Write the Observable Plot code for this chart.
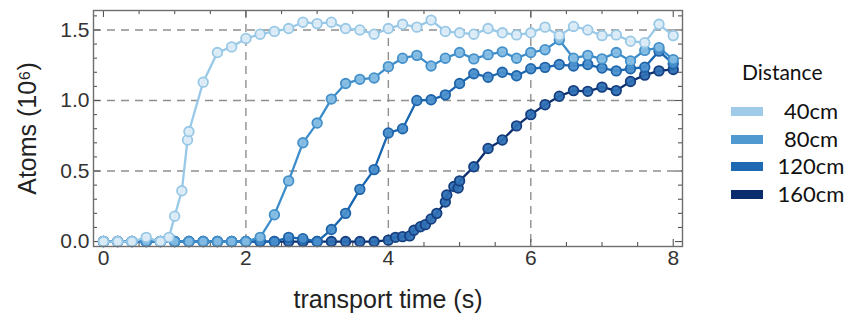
<!DOCTYPE html>
<html>
<head>
<meta charset="utf-8">
<script src="https://cdn.jsdelivr.net/npm/d3@7"></script>
<script src="https://cdn.jsdelivr.net/npm/@observablehq/plot@0.6"></script>
<style>
  html, body { margin: 0; padding: 0; background: #fff; }
  #wrap { position: relative; width: 850px; height: 320px; overflow: hidden; background: #fff; }
  #chart { position: absolute; left: 0; top: 0; }
  #chart svg, #chart svg text { font-family: "Liberation Sans", Arial, sans-serif !important; }
  #legend { position: absolute; left: 700px; top: 0; width: 150px; height: 320px; font-family: Lato, "Liberation Sans", sans-serif; color: #111; }
  .ltitle { position: absolute; left: 42px; top: 59px; font-size: 21px; }
  .lrow { position: absolute; left: 31px; width: 119px; height: 26px; }
  .lsw { position: absolute; left: 0; top: 9px; width: 32px; height: 9px; }
  .llab { position: absolute; left: 44px; width: 72px; top: 0; text-align: center; font-size: 22px; line-height: 26px; }
</style>
</head>
<body>
<div id="wrap">
  <div id="chart"></div>
  <div id="legend"></div>
</div>
<script>
// ---- data ----
const distances = ["40cm", "80cm", "120cm", "160cm"];
const legendTitle = "Distance";

const time40 = [0,0.2,0.4,0.6,0.8,0.92,1.0,1.1,1.18,1.2,1.4,1.6,1.8,2.0,2.2,2.4,2.6,2.8,3.0,3.2,3.4,3.6,3.8,4.0,4.2,4.4,4.6,4.8,5.0,5.2,5.4,5.6,5.8,6.0,6.2,6.4,6.6,6.8,7.0,7.2,7.4,7.6,7.8,8.0];
const atoms40 = [0,0,0,0.03,0,0.03,0.18,0.36,0.72,0.78,1.13,1.34,1.38,1.44,1.47,1.49,1.51,1.555,1.545,1.555,1.51,1.50,1.47,1.51,1.54,1.52,1.57,1.49,1.48,1.47,1.51,1.48,1.465,1.48,1.52,1.46,1.525,1.50,1.46,1.465,1.42,1.41,1.54,1.46];

const time80 = [0,0.2,0.4,0.6,0.8,1.0,1.2,1.4,1.6,1.8,2.0,2.2,2.4,2.6,2.8,3.0,3.2,3.4,3.6,3.8,4.0,4.2,4.4,4.6,4.8,5.0,5.2,5.4,5.6,5.8,6.0,6.2,6.4,6.6,6.8,7.0,7.2,7.4,7.6,7.8,8.0];
const atoms80 = [0,0,0,0,0,0,0,0,0,0,0,0.03,0.19,0.43,0.70,0.84,1.01,1.12,1.15,1.16,1.24,1.30,1.32,1.245,1.30,1.34,1.295,1.325,1.345,1.30,1.34,1.36,1.43,1.30,1.32,1.295,1.34,1.28,1.355,1.375,1.29];

const time120 = [0,0.2,0.4,0.6,0.8,1.0,1.2,1.4,1.6,1.8,2.0,2.2,2.4,2.6,2.8,3.0,3.2,3.4,3.6,3.8,4.0,4.2,4.4,4.6,4.8,5.0,5.2,5.4,5.6,5.8,6.0,6.2,6.4,6.6,6.8,7.0,7.2,7.4,7.6,7.8,8.0];
const atoms120 = [0,0,0,0,0,0,0,0,0,0,0,0,0,0.03,0.02,0,0.085,0.20,0.37,0.51,0.77,0.80,1.0,1.005,1.04,1.12,1.19,1.165,1.20,1.175,1.225,1.235,1.255,1.245,1.255,1.23,1.21,1.225,1.236,1.35,1.26];

const time160 = [0,0.2,0.4,0.6,0.8,1.0,1.2,1.4,1.6,1.8,2.0,2.2,2.4,2.6,2.8,3.0,3.2,3.4,3.6,3.8,4.0,4.1,4.2,4.3,4.36,4.45,4.52,4.6,4.68,4.8,4.82,4.92,4.98,5.0,5.2,5.4,5.6,5.8,6.0,6.2,6.4,6.6,6.8,7.0,7.2,7.4,7.6,7.8,8.0];
const atoms160 = [0,0,0,0,0,0,0,0,0,0,0,0,0,0,0,0,0,0,0,0,0.01,0.03,0.035,0.04,0.08,0.105,0.12,0.16,0.2,0.28,0.33,0.39,0.38,0.43,0.53,0.66,0.72,0.82,0.90,0.97,1.03,1.07,1.065,1.095,1.07,1.135,1.18,1.21,1.22];

const xTickLabels = [0, 2, 4, 6, 8];
const xMinorTicks = [0.5, 1, 1.5, 2.5, 3, 3.5, 4.5, 5, 5.5, 6.5, 7, 7.5];
const yTickLabels = [0, 0.5, 1.0, 1.5];
const yMinorTicks = [0.1,0.2,0.3,0.4,0.6,0.7,0.8,0.9,1.1,1.2,1.3,1.4,1.6];
const xGrid = [2, 4, 6];
const yGrid = [0.5, 1.0, 1.5];

// styles per series
const lineColor   = {"40cm": "#98c9e8", "80cm": "#3d8dca", "120cm": "#1865b0", "160cm": "#0b2f6e"};
const pointStroke = {"40cm": "#98c8e6", "80cm": "#4390cb", "120cm": "#2065ab", "160cm": "#163f80"};
const pointFill   = {"40cm": "#dcecf7", "80cm": "#84bce3", "120cm": "#4a8fcc", "160cm": "#2e70b5"};
const swatchColor = {"40cm": "#9fcbe8", "80cm": "#4f98d0", "120cm": "#1f68b2", "160cm": "#0a2d6e"};

const times = {"40cm": time40, "80cm": time80, "120cm": time120, "160cm": time160};
const atoms = {"40cm": atoms40, "80cm": atoms80, "120cm": atoms120, "160cm": atoms160};

const rows = d => times[d].map((t, i) => ({dist: d, t, v: atoms[d][i]}));

const W = 700, H = 320, mL = 93, mR = 18, mT = 10, mB = 74;
const frameW = W - mL - mR, frameH = H - mT - mB;

const seriesMarks = [];
for (const d of distances.slice().reverse()) {
  const data = rows(d);
  seriesMarks.push(Plot.line(data, {x: "t", y: "v", stroke: lineColor[d], strokeWidth: 2.3}));
  seriesMarks.push(Plot.dot(data, {x: "t", y: "v", r: 4.8, stroke: pointStroke[d], strokeWidth: 1.8, fill: pointFill[d], fillOpacity: 0.95}));
}

const tickStyle = {stroke: "#555", strokeWidth: 1.1};
const chart = Plot.plot({
  width: W, height: H,
  marginLeft: mL, marginRight: mR, marginTop: mT, marginBottom: mB,
  x: {domain: [-0.14, 8.13]},
  y: {domain: [-0.035, 1.638]},
  style: {fontFamily: "Liberation Sans, Arial, sans-serif", background: "white", color: "#333"},
  marks: [
    Plot.ruleX(xGrid, {stroke: "#8f8f8f", strokeWidth: 1.4, strokeDasharray: "8,6"}),
    Plot.ruleY(yGrid, {stroke: "#8f8f8f", strokeWidth: 1.4, strokeDasharray: "8,6"}),
    // inward ticks on all four sides
    Plot.tickX(xTickLabels, {...tickStyle, insetTop: frameH - 7}),
    Plot.tickX(xTickLabels, {...tickStyle, insetBottom: frameH - 7}),
    Plot.tickX(xMinorTicks, {...tickStyle, insetTop: frameH - 4}),
    Plot.tickX(xMinorTicks, {...tickStyle, insetBottom: frameH - 4}),
    Plot.tickY(yTickLabels, {...tickStyle, insetRight: frameW - 7}),
    Plot.tickY(yTickLabels, {...tickStyle, insetLeft: frameW - 7}),
    Plot.tickY(yMinorTicks, {...tickStyle, insetRight: frameW - 4}),
    Plot.tickY(yMinorTicks, {...tickStyle, insetLeft: frameW - 4}),
    ...seriesMarks,
    Plot.frame({stroke: "#6e6e6e", strokeWidth: 1.4}),
    Plot.axisX(xTickLabels, {anchor: "bottom", tickSize: 0, tickPadding: 4, tickFormat: d3.format("d"), fontSize: 21, label: null, fill: "#333"}),
    Plot.axisY(yTickLabels, {anchor: "left", tickSize: 0, tickPadding: 4, tickFormat: d3.format(".1f"), fontSize: 21, label: null, fill: "#333"}),
    Plot.text(["transport time (s)"], {frameAnchor: "bottom", dy: 53, lineAnchor: "middle", textAnchor: "middle", fontSize: 25, fill: "#222"}),
    Plot.text(["Atoms (10\u2076)"], {frameAnchor: "left", dx: -66, rotate: -90, lineAnchor: "middle", textAnchor: "middle", fontSize: 25, fill: "#222"})
  ]
});
document.getElementById("chart").appendChild(chart);

// ---- legend ----
const legend = document.getElementById("legend");
const title = document.createElement("div");
title.className = "ltitle";
title.textContent = legendTitle;
legend.appendChild(title);
const rowTops = [98, 126, 153, 181];
distances.forEach((d, i) => {
  const row = document.createElement("div");
  row.className = "lrow";
  row.style.top = rowTops[i] + "px";
  const sw = document.createElement("div");
  sw.className = "lsw";
  sw.style.background = swatchColor[d];
  const lab = document.createElement("div");
  lab.className = "llab";
  lab.textContent = d;
  row.appendChild(sw);
  row.appendChild(lab);
  legend.appendChild(row);
});
</script>
</body>
</html>
